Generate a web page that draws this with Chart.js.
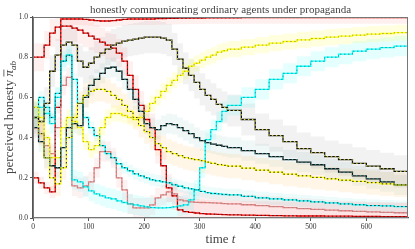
<!DOCTYPE html>
<html>
<head>
<meta charset="utf-8">
<script src="https://cdn.jsdelivr.net/npm/chart.js@4.4.1/dist/chart.umd.min.js"></script>
<style>
  html, body { margin: 0; padding: 0; background: #fff; }
</style>
</head>
<body>
<canvas id="chart" width="415" height="249"></canvas>
<script>
// time grid shared by all the series
const T = [0,10,20,30,40,50,60,70,80,90,100,110,120,130,140,150,160,170,180,190,200,210,220,230,240,250,260,270,280,290,300,310,320,330,340,350,375,400,425,450,475,500,525,550,575,600,625,650,675];

// mean perceived honesty
const red1    = [0.8,0.8,0.86,0.92,0.95,0.955,0.955,0.945,0.935,0.92,0.905,0.89,0.875,0.86,0.845,0.82,0.78,0.71,0.64,0.56,0.49,0.45,0.34,0.26,0.15,0.11,0.04,0.032,0.028,0.025,0.022,0.02,0.019,0.018,0.017,0.016,0.014,0.013,0.012,0.011,0.01,0.01,0.009,0.009,0.008,0.008,0.007,0.007,0.007];
const red2    = [0.2,0.175,0.15,0.13,0.55,0.99,0.99,0.99,0.99,0.988,0.985,0.982,0.98,0.98,0.982,0.985,0.988,0.99,0.99,0.99,0.99,0.99,0.992,0.992,0.993,0.993,0.994,0.994,0.995,0.995,0.995,0.996,0.996,0.996,0.996,0.996,0.997,0.997,0.997,0.997,0.997,0.997,0.997,0.997,0.997,0.997,0.997,0.997,0.997];
const salmon  = [0.45,0.42,0.36,0.32,0.45,0.66,0.7,0.16,0.15,0.16,0.18,0.25,0.33,0.33,0.3,0.2,0.14,0.07,0.05,0.05,0.05,0.065,0.1,0.115,0.13,0.12,0.09,0.085,0.08,0.078,0.077,0.076,0.075,0.074,0.072,0.07,0.066,0.062,0.057,0.052,0.047,0.043,0.039,0.036,0.033,0.03,0.028,0.026,0.025];
const blackC  = [0.5,0.48,0.57,0.73,0.81,0.86,0.875,0.86,0.78,0.75,0.77,0.8,0.82,0.84,0.86,0.87,0.88,0.885,0.89,0.895,0.9,0.9,0.9,0.895,0.885,0.84,0.79,0.745,0.71,0.675,0.64,0.61,0.59,0.565,0.55,0.535,0.49,0.44,0.41,0.38,0.345,0.325,0.305,0.29,0.272,0.258,0.245,0.232,0.22];
const blackB  = [0.45,0.38,0.3,0.26,0.25,0.35,0.45,0.47,0.46,0.6,0.66,0.69,0.72,0.745,0.75,0.73,0.69,0.64,0.59,0.53,0.47,0.45,0.44,0.46,0.47,0.465,0.45,0.435,0.42,0.4,0.385,0.375,0.368,0.362,0.356,0.35,0.335,0.32,0.305,0.29,0.278,0.265,0.245,0.228,0.21,0.195,0.18,0.165,0.15];
const yellowA = [0.5,0.42,0.3,0.2,0.17,0.25,0.4,0.5,0.57,0.61,0.63,0.64,0.64,0.63,0.61,0.59,0.56,0.53,0.5,0.46,0.43,0.4,0.37,0.35,0.33,0.32,0.31,0.3,0.295,0.29,0.285,0.278,0.272,0.266,0.262,0.258,0.248,0.238,0.228,0.218,0.21,0.202,0.195,0.188,0.182,0.176,0.17,0.165,0.16];
const yellowR = [0.55,0.5,0.4,0.3,0.3,0.45,0.5,0.48,0.45,0.38,0.34,0.36,0.45,0.5,0.52,0.52,0.51,0.5,0.49,0.5,0.53,0.57,0.6,0.63,0.66,0.685,0.71,0.73,0.755,0.77,0.785,0.8,0.81,0.825,0.832,0.84,0.85,0.86,0.87,0.878,0.886,0.893,0.9,0.905,0.91,0.915,0.918,0.922,0.925];
const cyanA   = [0.5,0.55,0.52,0.47,0.6,0.78,0.81,0.19,0.18,0.155,0.135,0.12,0.11,0.1,0.095,0.085,0.077,0.07,0.065,0.06,0.055,0.052,0.05,0.05,0.052,0.055,0.06,0.065,0.09,0.14,0.25,0.39,0.44,0.48,0.53,0.56,0.6,0.64,0.69,0.72,0.755,0.78,0.8,0.815,0.83,0.84,0.848,0.855,0.86];
const cyanB   = [0.55,0.6,0.55,0.5,0.62,0.78,0.81,0.69,0.57,0.5,0.45,0.41,0.36,0.32,0.3,0.27,0.25,0.235,0.22,0.21,0.2,0.19,0.185,0.18,0.175,0.165,0.158,0.15,0.145,0.14,0.132,0.126,0.122,0.12,0.117,0.115,0.108,0.1,0.095,0.09,0.085,0.08,0.075,0.07,0.066,0.062,0.06,0.057,0.055];

// half width of the shaded band round each mean
const spreadRed1 = 0.07, spreadRed2 = 0.03, spreadSalmon = 0.05, spreadBlackC = 0.08, spreadBlackB = 0.05;
const spreadYellowA = 0.06, spreadYellowR = 0.04, spreadCyanA = 0.05, spreadCyanB = 0.03;

const X_TICKS = [0, 100, 200, 300, 400, 500, 600];
const Y_TICKS = [0, 0.2, 0.4, 0.6, 0.8, 1.0];

const SERIES = [
  { values: blackC,  spread: spreadBlackC,  line: "#111111", dash: "#d8d840", band: "rgba(0,0,0,0.05)" },
  { values: yellowA, spread: spreadYellowA, line: "#ffff00", dash: "#222222", band: "rgba(255,160,0,0.09)" },
  { values: blackB,  spread: spreadBlackB,  line: "#111111", dash: "#3aa0a0", band: "rgba(0,120,120,0.06)" },
  { values: yellowR, spread: spreadYellowR, line: "#ffff00", dash: "#a8a848", band: "rgba(255,255,0,0.12)" },
  { values: cyanA,   spread: spreadCyanA,   line: "#00ffff", dash: "#339999", band: "rgba(0,255,255,0.1)" },
  { values: cyanB,   spread: spreadCyanB,   line: "#00ffff", dash: "#222222", band: "rgba(0,200,200,0.07)" },
  { values: salmon,  spread: spreadSalmon,  line: "#f08080", dash: "#909090", band: "rgba(240,128,128,0.1)" },
  { values: red2,    spread: spreadRed2,    line: "#ff0000", dash: "#222222", band: "rgba(255,0,0,0.06)" },
  { values: red1,    spread: spreadRed1,    line: "#ff0000", dash: "#222222", band: "rgba(255,0,0,0.06)" },
];

const pts = arr => T.map((t, i) => ({ x: t, y: arr[i] }));
const clamp = v => Math.max(0, Math.min(1, v));

const datasets = [];
// bands first
SERIES.forEach(s => {
  datasets.push({
    data: pts(s.values.map(v => clamp(v + s.spread))),
    fill: "+1", backgroundColor: s.band, borderWidth: 0,
    pointRadius: 0, stepped: true, order: 10
  });
  datasets.push({
    data: pts(s.values.map(v => clamp(v - s.spread))),
    fill: false, borderWidth: 0, pointRadius: 0, stepped: true, order: 10
  });
});
// solid line plus dashed overlay
SERIES.forEach(s => {
  datasets.push({
    data: pts(s.values), borderColor: s.line, borderWidth: 1.3,
    pointRadius: 0, stepped: true, fill: false, order: 5
  });
  datasets.push({
    data: pts(s.values), borderColor: s.dash, borderWidth: 1, borderDash: [1.5, 2.5],
    pointRadius: 0, stepped: true, fill: false, order: 4
  });
});

const serif = '"Liberation Serif", "DejaVu Serif", serif';

const textPlugin = {
  id: "texts",
  afterDatasetsDraw(chart) {
    const { ctx, chartArea: a } = chart;
    ctx.save();
    ctx.strokeStyle = "#777";
    ctx.lineWidth = 1;
    ctx.strokeRect(a.left + 0.5, a.top + 0.5, a.right - a.left - 1, a.bottom - a.top - 1);
    ctx.restore();
  },
  afterDraw(chart) {
    const { ctx, chartArea: a } = chart;
    const cx = (a.left + a.right) / 2;
    ctx.save();
    ctx.fillStyle = "#444";
    ctx.textBaseline = "alphabetic";

    // title
    ctx.font = "11px " + serif;
    ctx.textAlign = "center";
    ctx.fillText("honestly communicating ordinary agents under propaganda", cx, 13);

    // x label: "time t"
    ctx.textAlign = "left";
    ctx.font = "13px " + serif;
    const w1 = ctx.measureText("time ").width;
    ctx.font = "italic 13px " + serif;
    const w2 = ctx.measureText("t").width;
    let x0 = cx - (w1 + w2) / 2;
    ctx.font = "13px " + serif;
    ctx.fillText("time ", x0, 243);
    ctx.font = "italic 13px " + serif;
    ctx.fillText("t", x0 + w1, 243);

    // y label: perceived honesty π̄_ab
    ctx.translate(13, (a.top + a.bottom) / 2);
    ctx.rotate(-Math.PI / 2);
    ctx.font = "13px " + serif;
    const p1 = "perceived honesty ";
    const pw1 = ctx.measureText(p1).width;
    ctx.font = "italic 13px " + serif;
    const pw2 = ctx.measureText("π").width;
    ctx.font = "italic 9px " + serif;
    const pw3 = ctx.measureText("ab").width;
    let y0 = -(pw1 + pw2 + pw3) / 2;
    ctx.font = "13px " + serif;
    ctx.fillText(p1, y0, 0);
    ctx.font = "italic 13px " + serif;
    ctx.fillText("π", y0 + pw1, 0);
    ctx.fillRect(y0 + pw1, -9.5, pw2 + 0.5, 0.8);
    ctx.font = "italic 9px " + serif;
    ctx.fillText("ab", y0 + pw1 + pw2, 3);
    ctx.restore();
  }
};

new Chart(document.getElementById("chart"), {
  type: "line",
  data: { datasets },
  options: {
    responsive: false,
    animation: false,
    layout: { padding: { top: 17, right: 7, left: 0, bottom: 0 } },
    plugins: { legend: { display: false }, tooltip: { enabled: false }, title: { display: false } },
    scales: {
      x: {
        type: "linear", min: 0, max: 675,
        afterFit: s => { s.height = 31; },
        afterBuildTicks: s => { s.ticks = X_TICKS.map(v => ({ value: v })); },
        ticks: { font: { family: serif, size: 7.5 }, color: "#333", padding: 2, maxRotation: 0,
                 callback: v => String(v) },
        grid: { display: true, drawOnChartArea: false, drawTicks: true, tickLength: 3, color: "#555" },
        border: { display: true, color: "#555", width: 1.2 }
      },
      y: {
        type: "linear", min: 0, max: 1,
        afterFit: s => { s.width = 33; },
        afterBuildTicks: s => { s.ticks = Y_TICKS.map(v => ({ value: v })); },
        ticks: { font: { family: serif, size: 7.5 }, color: "#333", padding: 2,
                 callback: v => v.toFixed(1) },
        grid: { display: true, drawOnChartArea: false, drawTicks: true, tickLength: 3, color: "#555" },
        border: { display: true, color: "#555", width: 1.2 }
      }
    }
  },
  plugins: [textPlugin]
});
</script>
</body>
</html>
